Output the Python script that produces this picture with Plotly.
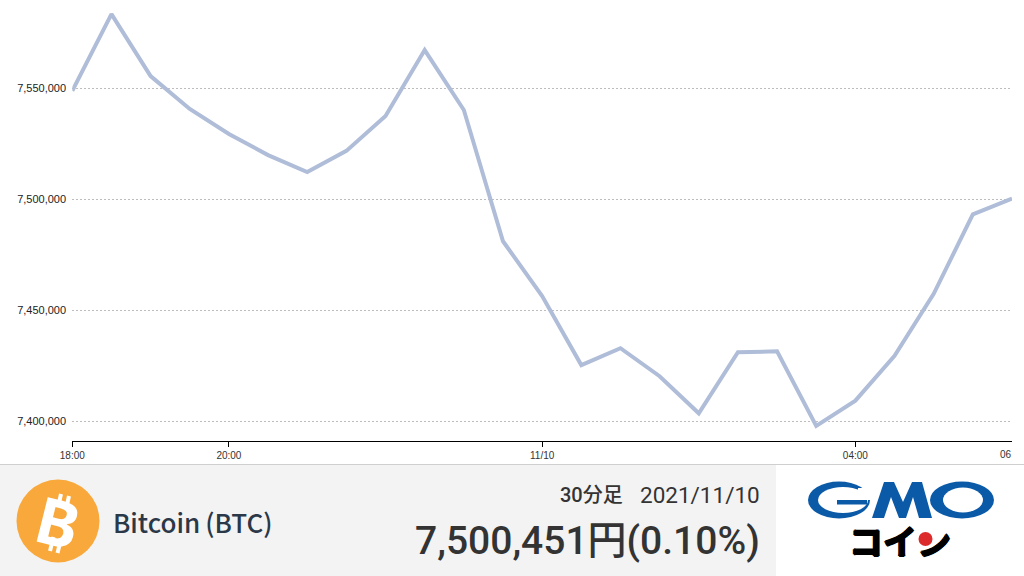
import plotly.graph_objects as go

# 30-minute closes
TIMES = [
    "2021-11-09 18:00", "2021-11-09 18:30", "2021-11-09 19:00", "2021-11-09 19:30",
    "2021-11-09 20:00", "2021-11-09 20:30", "2021-11-09 21:00", "2021-11-09 21:30",
    "2021-11-09 22:00", "2021-11-09 22:30", "2021-11-09 23:00", "2021-11-09 23:30",
    "2021-11-10 00:00", "2021-11-10 00:30", "2021-11-10 01:00", "2021-11-10 01:30",
    "2021-11-10 02:00", "2021-11-10 02:30", "2021-11-10 03:00", "2021-11-10 03:30",
    "2021-11-10 04:00", "2021-11-10 04:30", "2021-11-10 05:00", "2021-11-10 05:30",
    "2021-11-10 06:00",
]
PRICES = [
    7548900, 7583500, 7555600, 7540800, 7529500, 7520000, 7512400, 7521900,
    7537600, 7567300, 7540300, 7481200, 7456500, 7425400, 7433000, 7420400,
    7403700, 7431200, 7431600, 7398000, 7409400, 7429600, 7457500, 7493300,
    7500451,
]
X_TICKS = ["2021-11-09 18:00", "2021-11-09 20:00", "2021-11-10 00:00", "2021-11-10 04:00"]
X_LABELS = ["18:00", "20:00", "11/10", "04:00"]
Y_TICKS = [7400000, 7450000, 7500000, 7550000]

W, H = 1024, 576
_FONT = "Liberation Sans, Arial, sans-serif"
_JP = "Noto Sans CJK JP"
_NUM = "Roboto, Noto Sans CJK JP"
_LINE = "#b0bdd8"
_PANEL = "#f3f3f3"
_BLUE = "#0b5aa8"
_ORANGE = "#f9a93c"
_HEAVY = "1px 0 0 #000, -1px 0 0 #000, 0 1px 0 #000, 0 -1px 0 #000"


def px(x):
    return x / W


def py(y):
    return 1 - y / H


def path(points):
    return "M" + "L".join(f"{px(x)},{py(y)}" for x, y in points) + "Z"


def rect(x0, y0, x1, y1, color):
    return dict(type="rect", xref="paper", yref="paper", layer="above",
                x0=px(x0), x1=px(x1), y0=py(y0), y1=py(y1),
                fillcolor=color, line=dict(width=0))


def ellipse(cx, cy, rx, ry, color):
    return dict(type="circle", xref="paper", yref="paper", layer="above",
                x0=px(cx - rx), x1=px(cx + rx), y0=py(cy - ry), y1=py(cy + ry),
                fillcolor=color, line=dict(width=0))


def poly(points, color):
    return dict(type="path", xref="paper", yref="paper", layer="above",
                path=path(points), fillcolor=color, line=dict(width=0))


def bar(x0, y0, x1, y1, color, width):
    return dict(type="line", xref="paper", yref="paper", layer="above",
                x0=px(x0), x1=px(x1), y0=py(y0), y1=py(y1),
                line=dict(color=color, width=width))


def label(x, y, text, size, color, anchor="center", family=_JP, angle=0, weight="normal"):
    return dict(x=px(x), y=py(y), xref="paper", yref="paper", text=text, showarrow=False,
                xanchor=anchor, yanchor="middle", textangle=angle,
                font=dict(family=family, size=size, color=color, weight=weight))


fig = go.Figure(go.Scatter(
    x=TIMES,
    y=PRICES,
    mode="lines",
    line=dict(color=_LINE, width=4),
    hoverinfo="skip",
    showlegend=False,
))

# logo text sits in a trace so the red dot (a shape) can cover the stroke of ン
fig.add_trace(go.Scatter(
    x=[900],
    y=[546],
    xaxis="x2",
    yaxis="y2",
    mode="text",
    text=["コイン"],
    textposition="middle center",
    textfont=dict(family=_JP, size=34, color="#000000", weight="bold", shadow=_HEAVY),
    cliponaxis=False,
    hoverinfo="skip",
    showlegend=False,
))

shapes = [
    # footer
    rect(0, 464, W, 465, "#cfcfcf"),
    rect(0, 465, 776, H, _PANEL),
    # bitcoin mark
    ellipse(58, 521, 41.5, 41.5, _ORANGE),
    bar(61, 494, 58.5, 505, "#ffffff", 4),
    bar(69, 496, 66.5, 507, "#ffffff", 4),
    bar(53.5, 537, 50, 551, "#ffffff", 4),
    bar(61, 539, 57.5, 553, "#ffffff", 4),
    # GMO logo
    ellipse(839, 500, 31, 18.5, _BLUE),
    ellipse(843, 500, 25, 13, "#ffffff"),
    rect(858, 488, 872, 500, "#ffffff"),
    rect(837, 500, 867, 504.5, _BLUE),
    poly([(872, 518), (884, 482), (894, 482), (903, 502), (912, 482), (922, 482),
          (932, 518), (919, 518), (913, 497), (906, 518), (899, 518), (891, 497),
          (884, 518)], _BLUE),
    ellipse(962, 500, 32, 18.5, _BLUE),
    ellipse(963, 500, 20, 12.5, "#ffffff"),
    # hide the first stroke of ン, the red dot replaces it
    poly([(918, 522), (938, 522), (938, 541), (923, 549), (918, 549)], "#ffffff"),
    ellipse(925.5, 539, 7, 7, "#dd2a2a"),
]

annotations = [
    label(1006, 454, "06", 10, "#333333", family=_FONT),
    label(58, 521, "B", 64, "#ffffff", family="Noto Sans", angle=14, weight="bold"),
    label(111, 521, "Bitcoin\u2009(BTC)", 26, "#2b3848", anchor="left", weight=500),
    label(625, 495, "30分足", 20, "#333333", anchor="right", family=_NUM, weight=500),
    label(762, 495, "2021/11/10", 22.5, "#333333", anchor="right", family=_NUM),
    label(762, 541, "7,500,451円(0.10%)", 39, "#333333", anchor="right", family=_NUM, weight=500),
]

fig.update_layout(
    width=W,
    height=H,
    autosize=False,
    margin=dict(l=0, r=0, t=0, b=0, autoexpand=False),
    paper_bgcolor="#ffffff",
    plot_bgcolor="rgba(0,0,0,0)",
    font=dict(family=_FONT, color="#333333"),
    xaxis=dict(
        type="date",
        domain=[px(72.3), px(1012)],
        range=[TIMES[0], TIMES[-1]],
        tickmode="array",
        tickvals=X_TICKS,
        ticktext=X_LABELS,
        ticks="outside",
        ticklen=5,
        tickcolor="#000000",
        tickwidth=1,
        tickangle=0,
        tickfont=dict(size=10, color="#333333"),
        showline=True,
        linecolor="#000000",
        linewidth=1,
        showgrid=False,
        zeroline=False,
        anchor="y",
    ),
    yaxis=dict(
        domain=[py(440.5), 1],
        range=[7391441, 7589865],
        tickmode="array",
        tickvals=Y_TICKS,
        tickformat=",d",
        ticks="outside",
        ticklen=3,
        tickcolor="rgba(0,0,0,0)",
        tickfont=dict(size=11, color="#222222"),
        showline=False,
        showgrid=True,
        gridcolor="#bdbdbd",
        griddash="2px,2px",
        gridwidth=1,
        zeroline=False,
        anchor="x",
    ),
    # full-page pixel axes, only for the logo text
    xaxis2=dict(domain=[0, 1], range=[0, W], visible=False, anchor="y2"),
    yaxis2=dict(domain=[0, 1], range=[H, 0], visible=False, anchor="x2"),
    shapes=shapes,
    annotations=annotations,
)

fig.write_html(
    "out.html",
    config={"displayModeBar": False},
    post_script="document.body.style.margin='0';document.documentElement.style.overflow='hidden';",
)
